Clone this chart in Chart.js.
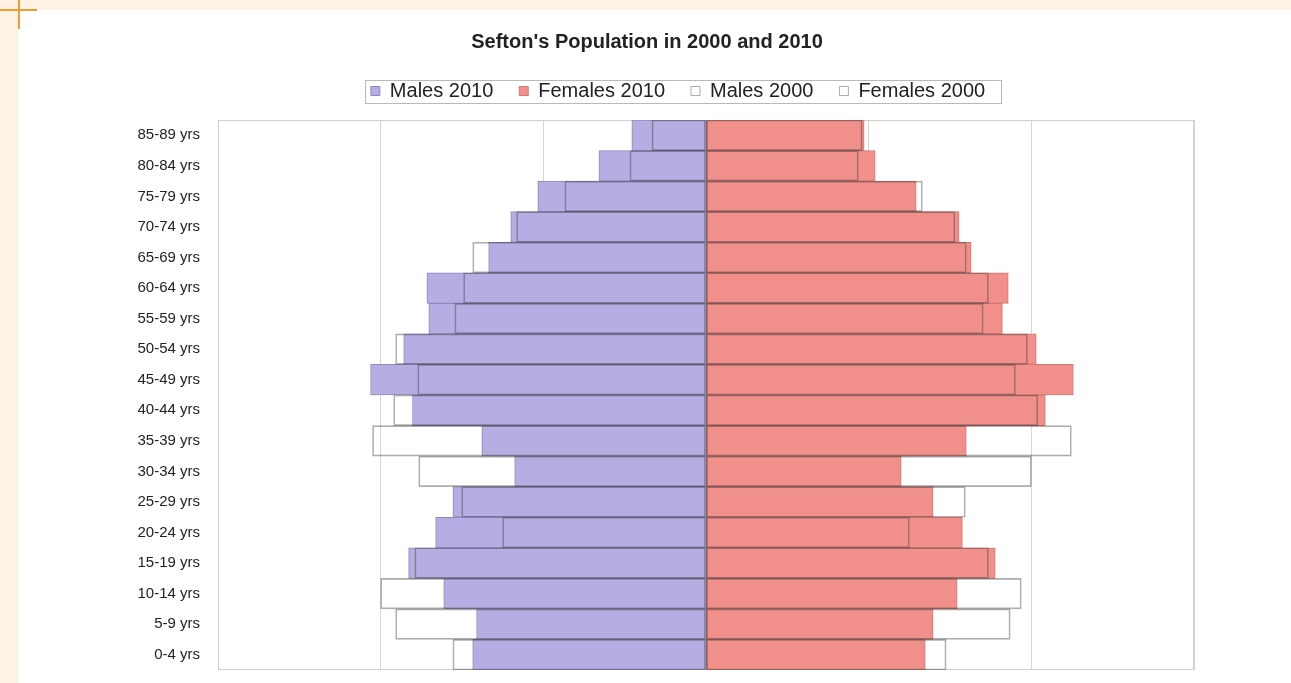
<!DOCTYPE html>
<html>
<head>
<meta charset="utf-8">
<title>Sefton's Population in 2000 and 2010</title>
<script src="https://cdn.jsdelivr.net/npm/chart.js@4/dist/chart.umd.min.js"></script>
<style>
    html, body { margin: 0; padding: 0; background: #ffffff; overflow: hidden; }
    .strip-top { position: absolute; left: 0; top: 0; width: 1291px; height: 10px; background: #fdf2e5; }
    .strip-left { position: absolute; left: 0; top: 0; width: 18px; height: 683px; background: #fdf2e5; }
    .mark-h { position: absolute; left: 0; top: 9px; width: 37px; height: 2px; background: #f39a2c; }
    .mark-v { position: absolute; left: 18px; top: 0; width: 2px; height: 29px; background: #f39a2c; }
    #chartWrap { position: absolute; left: 18px; top: 10px; width: 1273px; height: 673px; }
</style>
</head>
<body>
<div class="strip-top"></div>
<div class="strip-left"></div>
<div class="mark-h"></div>
<div class="mark-v"></div>
<div id="chartWrap"><canvas id="pyramid" width="1273" height="673"></canvas></div>

<script>
// Sefton population by age band (top row first)
const ageBands = ['85-89 yrs', '80-84 yrs', '75-79 yrs', '70-74 yrs', '65-69 yrs', '60-64 yrs',
    '55-59 yrs', '50-54 yrs', '45-49 yrs', '40-44 yrs', '35-39 yrs', '30-34 yrs',
    '25-29 yrs', '20-24 yrs', '15-19 yrs', '10-14 yrs', '5-9 yrs', '0-4 yrs'];

const males2010 = [2280, 3290, 5170, 6000, 6680, 8580, 8520, 9290, 10310, 9020, 6890, 5880, 7780, 8310, 9140, 8060, 7050, 7170];
const females2010 = [4860, 5200, 6460, 7780, 8150, 9290, 9110, 10150, 11290, 10430, 8000, 6000, 6980, 7880, 8890, 7720, 6980, 6740];
const males2000 = [1660, 2340, 4340, 5820, 7170, 7450, 7720, 9540, 8860, 9600, 10250, 8830, 7510, 6250, 8950, 10000, 9540, 7780];
const females2000 = [4800, 4680, 6650, 7650, 8000, 8680, 8520, 9880, 9510, 10200, 11230, 10000, 7970, 6250, 8680, 9690, 9350, 7380];

const axisMin = -15000;
const axisMax = 15000;
const axisStep = 5000;

const FONT = "'Liberation Sans', Arial, sans-serif";

// draws the light frame round the plot and the box round the legend
const framePlugin = {
    id: 'frames',
    afterLayout(chart) {
        // legend sits right of the title and a little higher
        const lg = chart.legend;
        lg.left += 31;
        lg.right += 31;
        lg.top -= 9;
        lg.bottom -= 9;
    },
    beforeDatasetsDraw(chart) {
        const a = chart.chartArea;
        const ctx = chart.ctx;
        ctx.save();
        ctx.strokeStyle = '#cfcfcf';
        ctx.lineWidth = 1;
        ctx.strokeRect(a.left + 0.5, a.top + 0.5, a.right - a.left - 1, a.bottom - a.top - 1);
        ctx.restore();
    },
    afterDraw(chart) {
        const lg = chart.legend;
        const ctx = chart.ctx;
        const pad = lg.options.labels.padding;
        const lw = lg.lineWidths[0];
        const start = (lg.left + lg.right + pad - lw) / 2;
        const end = start + lw - pad;
        const cy = lg.top + pad + 10;
        ctx.save();
        ctx.strokeStyle = '#b9b9b9';
        ctx.lineWidth = 1;
        ctx.strokeRect(Math.round(start - 6) + 0.5, Math.round(cy - 11) + 0.5, Math.round(end - start + 22), 23);
        ctx.restore();
    }
};

const ctx = document.getElementById('pyramid');

new Chart(ctx, {
    type: 'bar',
    data: {
        labels: ageBands,
        datasets: [{
            label: 'Males 2010',
            data: males2010.map(v => -v),
            backgroundColor: '#b4aee2',
            borderColor: '#8e88c2',
            borderWidth: 1,
            borderSkipped: false,
            order: 2
        }, {
            label: 'Females 2010',
            data: females2010,
            backgroundColor: '#f18f8a',
            borderColor: '#d27773',
            borderWidth: 1,
            borderSkipped: false,
            order: 2
        }, {
            label: 'Males 2000',
            data: males2000.map(v => -v),
            backgroundColor: 'rgba(255,255,255,0)',
            borderColor: 'rgba(60,60,60,0.42)',
            borderWidth: 1,
            borderSkipped: false,
            order: 1
        }, {
            label: 'Females 2000',
            data: females2000,
            backgroundColor: 'rgba(255,255,255,0)',
            borderColor: 'rgba(60,60,60,0.42)',
            borderWidth: 1,
            borderSkipped: false,
            order: 1
        }]
    },
    options: {
        indexAxis: 'y',
        responsive: false,
        animation: false,
        grouped: false,
        barPercentage: 1,
        categoryPercentage: 1,
        layout: {
            padding: { left: 82, right: 97, top: 0, bottom: 13 }
        },
        plugins: {
            title: {
                display: true,
                text: "Sefton's Population in 2000 and 2010",
                color: '#222222',
                font: { family: FONT, size: 20, weight: 'bold' },
                padding: { top: 20, bottom: 10 }
            },
            legend: {
                display: true,
                position: 'top',
                labels: {
                    color: '#222222',
                    font: { family: FONT, size: 20 },
                    boxWidth: 9,
                    boxHeight: 9,
                    padding: 26,
                    sort: (a, b) => a.datasetIndex - b.datasetIndex
                }
            },
            tooltip: { enabled: false }
        },
        scales: {
            x: {
                min: axisMin,
                max: axisMax,
                ticks: { display: false, stepSize: axisStep },
                grid: {
                    drawTicks: false,
                    color: c => (c.tick && c.tick.value === 0) ? '#5a5a5a' : '#d6d6d6'
                },
                border: { display: false },
                afterFit: scale => { scale.height = 0; }
            },
            y: {
                ticks: {
                    color: '#222222',
                    font: { family: FONT, size: 15 },
                    padding: 18
                },
                grid: { display: false, drawTicks: false },
                border: { display: false },
                afterFit: scale => {
                    scale.width = 118;
                    scale.paddingTop = 0;
                    scale.paddingBottom = 0;
                }
            }
        }
    },
    plugins: [framePlugin]
});
</script>
</body>
</html>
